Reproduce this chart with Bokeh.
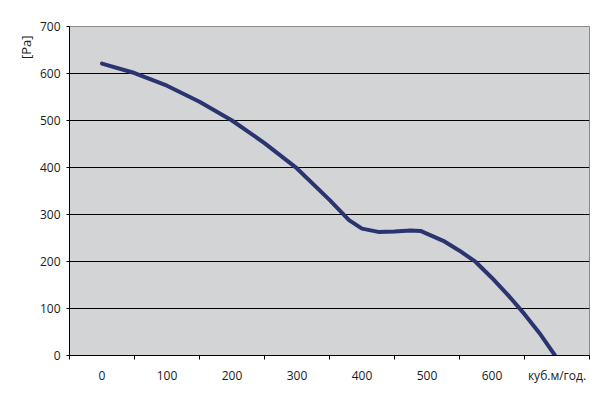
from bokeh.plotting import figure
from bokeh.models import FixedTicker, Range1d, Title
from bokeh.embed import file_html
from bokeh.resources import INLINE

# data
flow = [0, 50, 100, 150, 200, 250, 300, 350, 380, 400, 425, 450, 475, 490, 525, 550, 575, 600, 625, 650, 675, 697]
pressure = [621, 601, 574, 540, 500, 452, 398, 331, 288, 270, 263, 264, 266, 265, 244, 223, 199, 165, 128, 88, 44, 0]
x_ticks = [0, 100, 200, 300, 400, 500, 600, 700]
x_labels = ["0", "100", "200", "300", "400", "500", "600", "куб.м/год."]
x_bounds = [-50, 50, 150, 250, 350, 450, 550, 650, 750]
y_ticks = [0, 100, 200, 300, 400, 500, 600, 700]

FONT = "Open Sans"
TXT = "#1a1a1a"

p = figure(width=606, height=397, output_backend="svg", toolbar_location=None,
           x_range=Range1d(-50, 750), y_range=Range1d(0, 700),
           min_border_left=69, min_border_top=26, min_border_right=17, min_border_bottom=42)
p.background_fill_color = "#d3d4d6"
p.border_fill_color = "white"
p.outline_line_color = "#8a8a8a"
p.outline_line_width = 1

p.line(flow, pressure, line_color="#2a3470", line_width=4, line_join="round", line_cap="round")

xa = p.xaxis[0]
xa.ticker = FixedTicker(ticks=x_ticks, minor_ticks=x_bounds)
xa.major_label_overrides = {t: l for t, l in zip(x_ticks, x_labels)}
xa.major_tick_out = 0
xa.major_tick_in = 0
xa.minor_tick_out = 4
xa.minor_tick_in = 0
xa.minor_tick_line_color = "black"
xa.axis_line_color = "black"
xa.major_label_standoff = 7
xa.major_label_text_font = FONT
xa.major_label_text_font_size = "12px"
xa.major_label_text_color = TXT

ya = p.yaxis[0]
ya.ticker = FixedTicker(ticks=y_ticks)
ya.major_tick_out = 3
ya.major_tick_in = 0
ya.minor_tick_out = 0
ya.minor_tick_in = 0
ya.axis_line_color = "black"
ya.major_tick_line_color = "black"
ya.major_label_standoff = 6
ya.major_label_text_font = FONT
ya.major_label_text_font_size = "12px"
ya.major_label_text_color = TXT

p.xgrid.grid_line_color = None
p.ygrid.grid_line_color = "black"
p.ygrid.grid_line_width = 1

t = Title(text="[Pa]", align="right", text_font=FONT, text_font_size="13px",
          text_font_style="normal", text_color=TXT, offset=9, standoff=4)
p.add_layout(t, "left")

open("out.html", "w").write(file_html(p, INLINE))
